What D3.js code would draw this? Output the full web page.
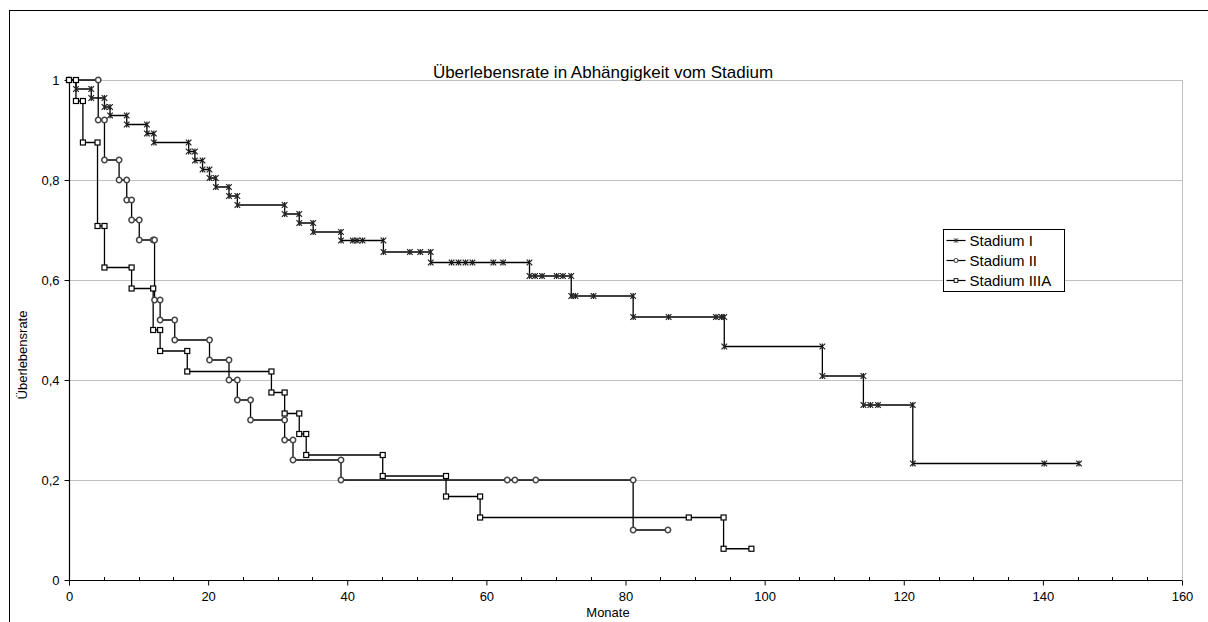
<!DOCTYPE html>
<html>
<head>
<meta charset="utf-8">
<script src="https://cdn.jsdelivr.net/npm/d3@7"></script>
<style>
  body { margin: 0; background: #fff; }
  text { font-family: "Liberation Sans", Arial, sans-serif; fill: #000; }
</style>
</head>
<body>
<svg id="chart"></svg>
<script>
// Kaplan-Meier Stufenkurven: Monate / Überlebensrate (Punkte in Zeichenreihenfolge)
var stage1Months = [0, 1, 1, 3.2, 3.2, 5.1, 5.1, 5.9, 5.9, 8.3, 8.3, 11.2, 11.2, 12.2, 12.2, 17.2, 17.2, 18.1, 18.1, 19.2, 19.2, 20.2, 20.2, 21.1, 21.1, 23, 23, 24.2, 24.2, 31, 31, 33.1, 33.1, 35.1, 35.1, 39.1, 39.1, 40.8, 41.4, 42.2, 45.2, 45.2, 49, 50.5, 52, 52, 55, 56, 57, 58, 61, 62.4, 66.2, 66.2, 67, 68, 70.1, 71, 72.2, 72.2, 72.8, 75.4, 81.1, 81.1, 86.2, 93, 93.8, 94.2, 94.2, 108.3, 108.3, 114.2, 114.2, 115.2, 116.3, 121.3, 121.3, 140.2, 145.2];
var stage1Rate   = [1, 1, 0.982, 0.982, 0.964, 0.964, 0.946, 0.946, 0.929, 0.929, 0.911, 0.911, 0.893, 0.893, 0.875, 0.875, 0.857, 0.857, 0.839, 0.839, 0.821, 0.821, 0.804, 0.804, 0.786, 0.786, 0.768, 0.768, 0.75, 0.75, 0.732, 0.732, 0.714, 0.714, 0.696, 0.696, 0.679, 0.679, 0.679, 0.679, 0.679, 0.656, 0.656, 0.656, 0.656, 0.635, 0.635, 0.635, 0.635, 0.635, 0.635, 0.635, 0.635, 0.608, 0.608, 0.608, 0.608, 0.608, 0.608, 0.568, 0.568, 0.568, 0.568, 0.526, 0.526, 0.526, 0.526, 0.526, 0.467, 0.467, 0.408, 0.408, 0.35, 0.35, 0.35, 0.35, 0.233, 0.233, 0.233];

var stage2Months = [0, 4.2, 4.2, 5.1, 5.1, 7.2, 7.2, 8.3, 8.3, 9, 9, 10.1, 10.1, 12.1, 12.3, 12.3, 13.1, 13.1, 15.2, 15.2, 20.2, 20.2, 23, 23, 24.2, 24.2, 26.1, 26.1, 31, 31, 32.2, 32.2, 39.1, 39.1, 63, 64.1, 67.1, 81.1, 81.1, 86.1];
var stage2Rate   = [1, 1, 0.92, 0.92, 0.84, 0.84, 0.8, 0.8, 0.76, 0.76, 0.72, 0.72, 0.68, 0.68, 0.68, 0.56, 0.56, 0.52, 0.52, 0.48, 0.48, 0.44, 0.44, 0.4, 0.4, 0.36, 0.36, 0.32, 0.32, 0.28, 0.28, 0.24, 0.24, 0.2, 0.2, 0.2, 0.2, 0.2, 0.1, 0.1];

var stage3Months = [0, 1, 1, 2, 2, 4.1, 4.1, 5.1, 5.1, 9, 9, 12.1, 12.1, 13.1, 13.1, 17, 17, 29.1, 29.1, 31, 31, 33.1, 33.1, 34.1, 34.1, 45.1, 45.1, 54.2, 54.2, 59.1, 59.1, 89.1, 94.1, 94.1, 98.1];
var stage3Rate   = [1, 1, 0.958, 0.958, 0.875, 0.875, 0.708, 0.708, 0.625, 0.625, 0.583, 0.583, 0.5, 0.5, 0.458, 0.458, 0.417, 0.417, 0.375, 0.375, 0.333, 0.333, 0.292, 0.292, 0.25, 0.25, 0.208, 0.208, 0.167, 0.167, 0.125, 0.125, 0.125, 0.0625, 0.0625];

var seriesNames = ["Stadium I", "Stadium II", "Stadium IIIA"];
var xTicks = [0, 20, 40, 60, 80, 100, 120, 140, 160];
var yTicks = [0, 0.2, 0.4, 0.6, 0.8, 1];

var W = 1208, H = 622;
var plotLeft = 69, plotRight = 1182, plotTop = 80, plotBottom = 580;

var svg = d3.select("#chart").attr("width", W).attr("height", H);

// äußerer Rahmen
svg.append("rect")
    .attr("x", 9.5).attr("y", 10.5)
    .attr("width", 1300).attr("height", 700)
    .attr("fill", "none").attr("stroke", "#000").attr("stroke-width", 1);

var x = d3.scaleLinear().domain([0, 160]).range([plotLeft, plotRight]);
var y = d3.scaleLinear().domain([0, 1]).range([plotBottom, plotTop]);

// Gitterlinien
svg.append("g").selectAll("line").data(yTicks.filter(function(d) { return d > 0; })).enter()
    .append("line")
    .attr("x1", plotLeft).attr("x2", plotRight)
    .attr("y1", function(d) { return Math.round(y(d)) + 0.5; })
    .attr("y2", function(d) { return Math.round(y(d)) + 0.5; })
    .attr("stroke", "#c0c0c0").attr("stroke-width", 1);
svg.append("line")
    .attr("x1", plotRight + 0.5).attr("x2", plotRight + 0.5)
    .attr("y1", plotTop).attr("y2", plotBottom)
    .attr("stroke", "#c0c0c0").attr("stroke-width", 1);

// X-Achse
var xAxis = svg.append("g")
    .attr("transform", "translate(0," + (plotBottom + 0.5) + ")")
    .call(d3.axisBottom(x).tickValues(xTicks).tickSize(5).tickFormat(d3.format("d")));
xAxis.select(".domain").remove();
xAxis.selectAll("line").attr("stroke", "#000");
xAxis.selectAll("text")
    .attr("font-size", 13).attr("font-family", "Liberation Sans, Arial, sans-serif")
    .attr("dy", "0.95em");
// kleine Striche alle 5 Monate
svg.append("g").selectAll("line").data(d3.range(5, 160, 5).filter(function(d) { return d % 20 !== 0; })).enter()
    .append("line")
    .attr("x1", function(d) { return Math.round(x(d)) + 0.5; })
    .attr("x2", function(d) { return Math.round(x(d)) + 0.5; })
    .attr("y1", plotBottom - 3).attr("y2", plotBottom)
    .attr("stroke", "#000");
svg.append("line")
    .attr("x1", plotLeft).attr("x2", plotRight)
    .attr("y1", plotBottom + 0.5).attr("y2", plotBottom + 0.5)
    .attr("stroke", "#000").attr("stroke-width", 1.2);

// Y-Achse
var yAxis = svg.append("g")
    .attr("transform", "translate(" + (plotLeft + 0.5) + ",0)")
    .call(d3.axisLeft(y).tickValues(yTicks).tickSize(5)
        .tickFormat(function(d) { return d === 0 || d === 1 ? String(d) : String(d).replace(".", ","); }));
yAxis.select(".domain").remove();
yAxis.selectAll("line").attr("stroke", "#000");
yAxis.selectAll("text")
    .attr("font-size", 13).attr("font-family", "Liberation Sans, Arial, sans-serif")
    .attr("x", -10);
svg.append("line")
    .attr("x1", plotLeft + 0.5).attr("x2", plotLeft + 0.5)
    .attr("y1", plotTop).attr("y2", plotBottom + 1)
    .attr("stroke", "#000").attr("stroke-width", 1.2);

// Titel und Achsentitel
svg.append("text")
    .attr("x", 603).attr("y", 78)
    .attr("text-anchor", "middle").attr("font-size", 17)
    .text("Überlebensrate in Abhängigkeit vom Stadium");
svg.append("text")
    .attr("x", 608).attr("y", 617)
    .attr("text-anchor", "middle").attr("font-size", 13)
    .text("Monate");
svg.append("text")
    .attr("transform", "translate(27,355) rotate(-90)")
    .attr("text-anchor", "middle").attr("font-size", 13)
    .text("Überlebensrate");

// Marker
var markerFns = [
    function(g) { // Stern
        g.append("path").attr("d", "M-2.8,-2.8L2.8,2.8M-2.8,2.8L2.8,-2.8M0,-3L0,3")
            .attr("stroke", "#222").attr("stroke-width", 1.2).attr("fill", "none");
    },
    function(g) { // Kreis
        g.append("circle").attr("r", 2.7)
            .attr("stroke", "#444").attr("stroke-width", 1.5).attr("fill", "#fff");
    },
    function(g) { // Quadrat
        g.append("rect").attr("x", -2.5).attr("y", -2.5).attr("width", 5).attr("height", 5)
            .attr("stroke", "#000").attr("stroke-width", 1.2).attr("fill", "#fff");
    }
];

var series = [
    d3.zip(stage1Months, stage1Rate),
    d3.zip(stage2Months, stage2Rate),
    d3.zip(stage3Months, stage3Rate)
];

var line = d3.line()
    .x(function(d) { return x(d[0]); })
    .y(function(d) { return y(d[1]); });

var plot = svg.append("g");
series.forEach(function(pts, i) {
    plot.append("path").datum(pts)
        .attr("d", line)
        .attr("fill", "none").attr("stroke", "#000").attr("stroke-width", 1.3);
});
series.forEach(function(pts, i) {
    plot.append("g").selectAll("g").data(pts).enter()
        .append("g")
        .attr("transform", function(d) { return "translate(" + x(d[0]) + "," + y(d[1]) + ")"; })
        .each(function() { markerFns[i](d3.select(this)); });
});

// Legende
var legend = svg.append("g").attr("transform", "translate(943.5,229.5)");
legend.append("rect").attr("width", 121).attr("height", 62)
    .attr("fill", "#fff").attr("stroke", "#000").attr("stroke-width", 1);
seriesNames.forEach(function(name, i) {
    var row = legend.append("g").attr("transform", "translate(0," + (11 + i * 20) + ")");
    row.append("line").attr("x1", 3).attr("x2", 22).attr("y1", 0).attr("y2", 0)
        .attr("stroke", "#000").attr("stroke-width", 1.2);
    markerFns[i](row.append("g").attr("transform", "translate(12.5,0) scale(0.75)"));
    row.append("text").attr("x", 26).attr("y", 0).attr("dy", "0.36em")
        .attr("font-size", 15).text(name);
});
</script>
</body>
</html>
